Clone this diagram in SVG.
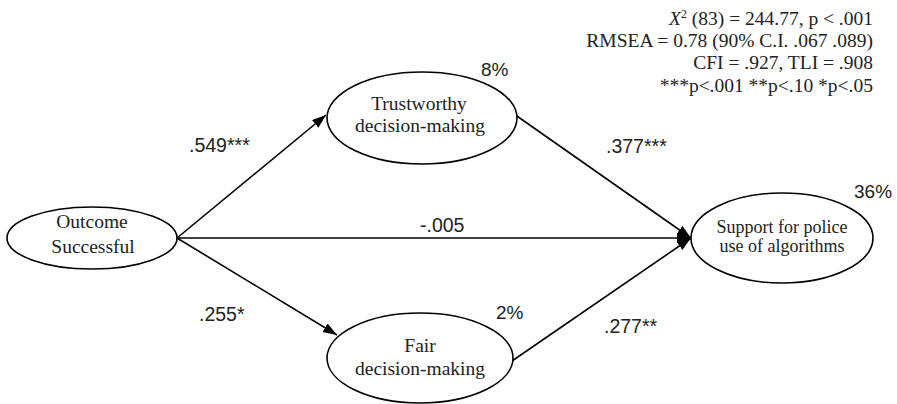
<svg xmlns="http://www.w3.org/2000/svg" width="897" height="404" viewBox="0 0 897 404">
<style>
.node{fill:#fff;stroke:#000;stroke-width:1.6}
.nt{font-family:"Liberation Serif",serif;font-size:19.5px;fill:#222;text-anchor:middle}
.st{font-family:"Liberation Serif",serif;font-size:18px;fill:#222;text-anchor:middle}
.el{font-family:"Liberation Sans",sans-serif;font-size:19.5px;fill:#222}
.pc{font-family:"Liberation Sans",sans-serif;font-size:19px;fill:#222}
.stat{font-family:"Liberation Serif",serif;font-size:19.5px;fill:#222;text-anchor:end}
.edge{stroke:#000;stroke-width:1.6;fill:none;marker-end:url(#ah)}
</style>
<defs>
<marker id="ah" markerUnits="userSpaceOnUse" markerWidth="15" markerHeight="11" refX="14" refY="5" orient="auto">
<path d="M0,0 L14,5 L0,10 z" fill="#000"/>
</marker>
</defs>
<rect width="897" height="404" fill="#fff"/>
<g id="connectors">
<line class="edge" x1="177" y1="238" x2="326" y2="115"/>
<line class="edge" x1="177" y1="238" x2="337" y2="335"/>
<line class="edge" x1="177" y1="238" x2="691" y2="238"/>
<line class="edge" x1="514" y1="114" x2="691" y2="238"/>
<line class="edge" x1="512" y1="361" x2="691" y2="238"/>
<text class="el" x="189" y="152">.549***</text>
<text class="el" x="199" y="321">.255*</text>
<text class="el" x="420" y="232">-.005</text>
<text class="el" x="606" y="153">.377***</text>
<text class="el" x="604" y="333">.277**</text>
</g>
<g id="outcome">
<ellipse class="node" cx="92" cy="238" rx="85" ry="31"/>
<text class="nt" x="92" y="228">Outcome</text>
<text class="nt" x="93" y="253">Successful</text>
</g>
<g id="trustworthy">
<ellipse class="node" cx="422" cy="118" rx="95" ry="46"/>
<text class="nt" x="419" y="110">Trustworthy</text>
<text class="nt" x="420" y="132">decision-making</text>
<text class="pc" x="481" y="76">8%</text>
</g>
<g id="fair">
<ellipse class="node" cx="420" cy="358" rx="93" ry="45"/>
<text class="nt" x="420" y="352">Fair</text>
<text class="nt" x="420" y="375">decision-making</text>
<text class="pc" x="496" y="319">2%</text>
</g>
<g id="support">
<ellipse class="node" cx="782" cy="238" rx="91" ry="45"/>
<text class="st" x="782" y="233">Support for police</text>
<text class="st" x="782" y="252">use of algorithms</text>
<text class="pc" x="854" y="198">36%</text>
</g>
<g id="stats">
<text class="stat" x="873" y="25"><tspan font-style="italic">X</tspan><tspan font-size="12" dy="-7">2</tspan><tspan dy="7"> (83) = 244.77, p &lt; .001</tspan></text>
<text class="stat" x="873" y="47">RMSEA = 0.78 (90% C.I. .067 .089)</text>
<text class="stat" x="873" y="69">CFI = .927, TLI = .908</text>
<text class="stat" x="873" y="92">***p&lt;.001 **p&lt;.10 *p&lt;.05</text>
</g>
</svg>
